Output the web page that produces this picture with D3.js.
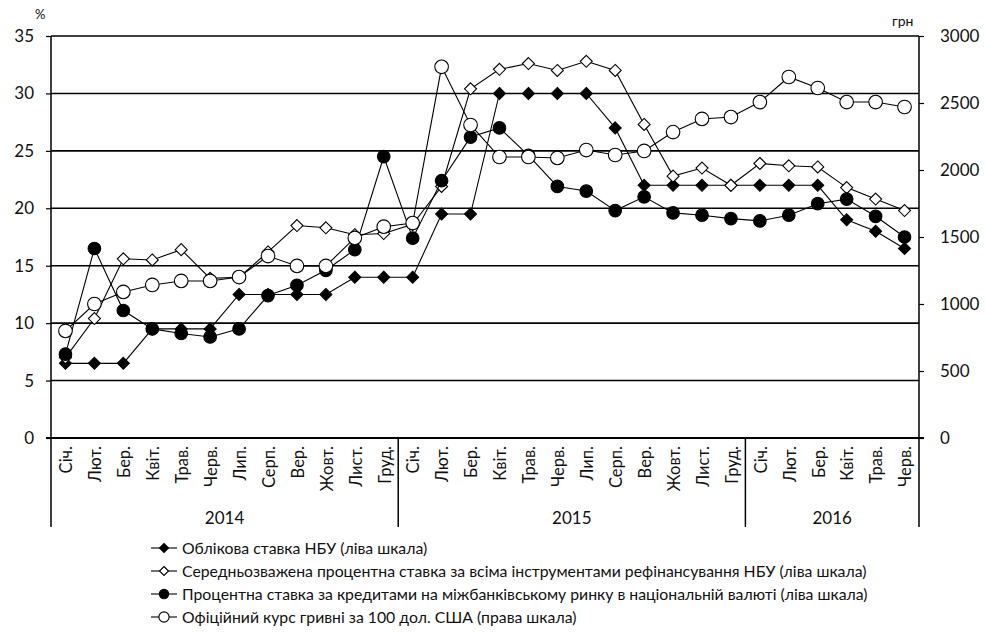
<!DOCTYPE html>
<html>
<head>
<meta charset="utf-8">
<script src="https://cdn.jsdelivr.net/npm/d3@7"></script>
<style>
  html, body { margin: 0; padding: 0; background: #fff; }
  svg { display: block; }
  text { font-family: Lato, "Open Sans", sans-serif; fill: #111; }
</style>
</head>
<body>
<svg id="chart" width="985" height="632"></svg>
<script>
// місяці та роки
var MONTHS = ['Січ.', 'Лют.', 'Бер.', 'Квіт.', 'Трав.', 'Черв.', 'Лип.', 'Серп.', 'Вер.', 'Жовт.', 'Лист.', 'Груд.'];
var YEARS = [['2014', 12], ['2015', 12], ['2016', 6]];
var LEFT_TICKS = [0, 5, 10, 15, 20, 25, 30, 35];
var RIGHT_TICKS = [0, 500, 1000, 1500, 2000, 2500, 3000];

// Облікова ставка НБУ, %
var discountRate = [6.5, 6.5, 6.5, 9.5, 9.5, 9.5, 12.5, 12.5, 12.5, 12.5, 14, 14,
  14, 19.5, 19.5, 30, 30, 30, 30, 27, 22, 22, 22, 22,
  22, 22, 22, 19, 18, 16.5];
// Середньозважена ставка рефінансування, %
var refinRate = [7.0, 10.4, 15.6, 15.5, 16.4, 13.9, 14.0, 16.2, 18.5, 18.3, 17.7, 17.8,
  18.6, 21.9, 30.4, 32.1, 32.6, 32.0, 32.8, 32.0, 27.3, 22.8, 23.5, 22.0,
  23.9, 23.7, 23.6, 21.8, 20.8, 19.8];
// Ставка міжбанку в нац. валюті, %
var interbankRate = [7.3, 16.5, 11.1, 9.5, 9.1, 8.8, 9.5, 12.4, 13.3, 14.6, 16.4, 24.5,
  17.4, 22.4, 26.2, 27.0, 24.6, 21.9, 21.5, 19.8, 21.0, 19.6, 19.4, 19.1,
  18.9, 19.4, 20.4, 20.8, 19.3, 17.5];
// Офіційний курс гривні за 100 дол. США, грн
var fxRate = [799, 1000, 1090, 1142, 1172, 1172, 1201, 1358, 1284, 1284, 1493, 1577,
  1604, 2770, 2336, 2097, 2097, 2090, 2149, 2112, 2142, 2283, 2381, 2395,
  2507, 2694, 2612, 2507, 2507, 2470];

var LEGEND = [
  'Облікова ставка НБУ (ліва шкала)',
  'Середньозважена процентна ставка за всіма інструментами рефінансування НБУ (ліва шкала)',
  'Процентна ставка за кредитами на міжбанківському ринку в національній валюті (ліва шкала)',
  'Офіційний курс гривні за 100 дол. США (права шкала)'
];

var cats = [];
YEARS.forEach(function (y) { for (var i = 0; i < y[1]; i++) cats.push(y[0] + '-' + i); });

var L = 51, R = 919, T = 36, B = 438;
var svg = d3.select('#chart');
var x = d3.scaleBand().domain(cats).range([L, R]);
var yL = d3.scaleLinear().domain([0, 35]).range([B, T]);
var yR = d3.scaleLinear().domain([0, 3000]).range([B, T]);
var cx = function (i) { return x(cats[i]) + x.bandwidth() / 2; };

// сітка
svg.append('g').selectAll('line').data(LEFT_TICKS.slice(1)).enter().append('line')
  .attr('x1', L).attr('x2', R).attr('y1', yL).attr('y2', yL)
  .attr('stroke', '#000').attr('stroke-width', 1.6);

// осі
var gl = svg.append('g').attr('transform', 'translate(' + L + ',0)')
  .call(d3.axisLeft(yL).tickValues(LEFT_TICKS).tickSize(5).tickPadding(12));
var gr = svg.append('g').attr('transform', 'translate(' + R + ',0)')
  .call(d3.axisRight(yR).tickValues(RIGHT_TICKS).tickFormat(d3.format('d')).tickSize(5).tickPadding(16));
[gl, gr].forEach(function (g) {
  g.select('.domain').remove();
  g.selectAll('line').attr('stroke', '#000').attr('stroke-width', 1.2);
  g.selectAll('text').attr('font-size', 17).attr('font-family', 'Lato, sans-serif').attr('fill', '#111');
});
svg.append('line').attr('x1', L).attr('x2', L).attr('y1', T).attr('y2', 527).attr('stroke', '#000').attr('stroke-width', 1.5);
svg.append('line').attr('x1', R).attr('x2', R).attr('y1', T).attr('y2', 527).attr('stroke', '#000').attr('stroke-width', 1.5);
svg.append('line').attr('x1', L - 5).attr('x2', R + 5).attr('y1', B).attr('y2', B).attr('stroke', '#000').attr('stroke-width', 2);

svg.append('text').attr('x', 35).attr('y', 19).attr('font-size', 13).text('%');
svg.append('text').attr('x', 892).attr('y', 26).attr('font-size', 14).text('грн');

// підписи місяців і роки
cats.forEach(function (c, i) {
  var m = MONTHS[+c.split('-')[1]];
  svg.append('text').attr('transform', 'translate(' + (cx(i) + 1) + ',' + 446 + ') rotate(-90)')
    .attr('text-anchor', 'end').attr('dy', '0.35em').attr('font-size', 16.5).text(m);
});
var acc = 0;
YEARS.forEach(function (y, k) {
  var x0 = x(cats[acc]), x1 = x(cats[acc + y[1] - 1]) + x.bandwidth();
  if (k > 0) svg.append('line').attr('x1', x0).attr('x2', x0).attr('y1', B).attr('y2', 527).attr('stroke', '#000').attr('stroke-width', 1.5);
  svg.append('text').attr('x', (x0 + x1) / 2).attr('y', 524).attr('text-anchor', 'middle').attr('font-size', 17).text(y[0]);
  acc += y[1];
});

// серії
function diamondPath(r) { return 'M0,' + (-r) + 'L' + r + ',0L0,' + r + 'L' + (-r) + ',0Z'; }
var SERIES = [
  { data: discountRate, y: yL, shape: 'diamond', fill: '#000' },
  { data: refinRate, y: yL, shape: 'diamond', fill: '#fff' },
  { data: interbankRate, y: yL, shape: 'circle', fill: '#000' },
  { data: fxRate, y: yR, shape: 'circle', fill: '#fff' }
];
function marker(g, s, px, py, k) {
  if (s.shape === 'diamond') {
    g.append('path').attr('d', diamondPath(6 * k)).attr('transform', 'translate(' + px + ',' + py + ')')
      .attr('fill', s.fill).attr('stroke', '#000').attr('stroke-width', 1.1);
  } else {
    g.append('circle').attr('cx', px).attr('cy', py).attr('r', (s.fill === '#000' ? 6.3 : 6.8) * k)
      .attr('fill', s.fill).attr('stroke', '#000').attr('stroke-width', 1.1);
  }
}
SERIES.forEach(function (s) {
  var g = svg.append('g');
  var line = d3.line().x(function (d, i) { return cx(i); }).y(function (d) { return s.y(d); });
  g.append('path').attr('d', line(s.data)).attr('fill', 'none').attr('stroke', '#000').attr('stroke-width', 1.1);
  s.data.forEach(function (d, i) { marker(g, s, cx(i), s.y(d), 1); });
});

// легенда
LEGEND.forEach(function (t, i) {
  var ly = 548 + i * 23, g = svg.append('g');
  g.append('line').attr('x1', 151).attr('x2', 177).attr('y1', ly).attr('y2', ly).attr('stroke', '#000').attr('stroke-width', 1.1);
  marker(g, SERIES[i], 164, ly, 0.75);
  g.append('text').attr('x', 182).attr('y', ly).attr('dy', '0.35em').attr('font-size', 15.8).text(t);
});
</script>
</body>
</html>
